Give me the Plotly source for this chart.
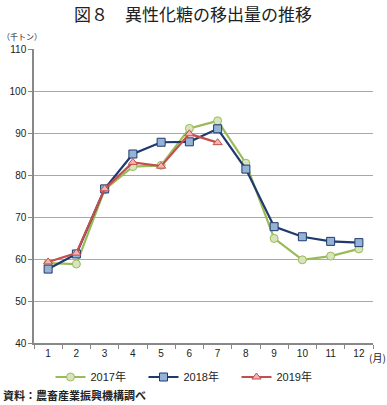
import plotly.graph_objects as go

months = [str(m) for m in range(1, 13)]
y2017 = [59.0, 58.8, 76.5, 82.0, 82.3, 91.1, 92.9, 82.8, 64.9, 59.8, 60.7, 62.4]
y2018 = [57.6, 61.2, 76.7, 85.0, 87.8, 87.9, 91.0, 81.4, 67.7, 65.3, 64.2, 63.9]
y2019 = [59.3, 61.4, 76.7, 83.0, 82.1, 89.8, 87.7]
names = ["2017年", "2018年", "2019年"]

JP = "Noto Sans CJK JP"
NUM = "Liberation Sans, Noto Sans CJK JP"

W, H = 387, 405
L, R, T, B = 34, 14, 49, 62
plot_h = H - T - B
plot_w = W - L - R


def py(px):
    return (H - B - px) / plot_h


def px_x(px):
    return (px - L) / plot_w


fig = go.Figure()
fig.add_trace(go.Scatter(x=months, y=y2017, name=names[0], mode="lines+markers",
                         line=dict(color="#9BBB59", width=2.2),
                         marker=dict(symbol="circle", size=8, color="#D7E4BD",
                                     line=dict(color="#9BBB59", width=1))))
fig.add_trace(go.Scatter(x=months, y=y2018, name=names[1], mode="lines+markers",
                         line=dict(color="#1F3A6E", width=2.2),
                         marker=dict(symbol="square", size=8, color="#95B3D7",
                                     line=dict(color="#1F3A6E", width=1))))
fig.add_trace(go.Scatter(x=months[:len(y2019)], y=y2019, name=names[2], mode="lines+markers",
                         line=dict(color="#C0504D", width=2.2),
                         marker=dict(symbol="triangle-up", size=8, color="#F4B3B1",
                                     line=dict(color="#C0504D", width=1))))

fig.update_layout(
    width=W, height=H,
    margin=dict(l=L, r=R, t=T, b=B, autoexpand=False),
    paper_bgcolor="white", plot_bgcolor="white",
    font=dict(family=NUM, size=10, color="#222"),
    showlegend=True,
    legend=dict(orientation="h", x=px_x(190), xanchor="center", y=py(377), yanchor="middle",
                font=dict(family=NUM, size=11, color="#222"),
                entrywidth=48, entrywidthmode="pixels", itemwidth=30,
                bgcolor="rgba(0,0,0,0)"),
    xaxis=dict(type="category", showline=True, linecolor="#888", linewidth=1.5,
               ticks="outside", tickson="boundaries", ticklen=4, tickcolor="#888",
               showgrid=False, tickfont=dict(family=NUM, size=10, color="#222"),
               range=[-0.5, 11.5]),
    yaxis=dict(range=[40, 110], dtick=10, showline=True, linecolor="#888", linewidth=1.5,
               ticks="outside", ticklen=4, tickcolor="#888",
               showgrid=True, gridcolor="#A8A8A8", gridwidth=1.2,
               zeroline=False, tickfont=dict(family=NUM, size=10, color="#222")),
)

fig.add_annotation(text="図８　異性化糖の移出量の推移", xref="paper", yref="paper",
                   x=px_x(193), y=py(13), xanchor="center", yanchor="middle",
                   showarrow=False, font=dict(family=JP, size=17, color="#222"))
fig.add_annotation(text="（千トン）", xref="paper", yref="paper", x=px_x(0), y=py(36),
                   xanchor="left", yanchor="middle", showarrow=False,
                   font=dict(family=JP, size=8, color="#222"))
fig.add_annotation(text="(月)", xref="paper", yref="paper", x=px_x(367), y=py(357),
                   xanchor="left", yanchor="middle", showarrow=False,
                   font=dict(family=JP, size=10, color="#222"))
fig.add_annotation(text="<b>資料：農畜産業振興機構調べ</b>", xref="paper", yref="paper", x=px_x(1), y=py(395),
                   xanchor="left", yanchor="middle", showarrow=False,
                   font=dict(family=JP, size=11, color="#222"))

fig.write_html("out.html", config={"displayModeBar": False})

# remove default page margin so the figure sits at the window's top-left corner
with open("out.html", "r", encoding="utf-8") as f:
    html = f.read()
html = html.replace("<head>", "<head><style>html,body{margin:0;padding:0;overflow:hidden;}</style>", 1)
with open("out.html", "w", encoding="utf-8") as f:
    f.write(html)
